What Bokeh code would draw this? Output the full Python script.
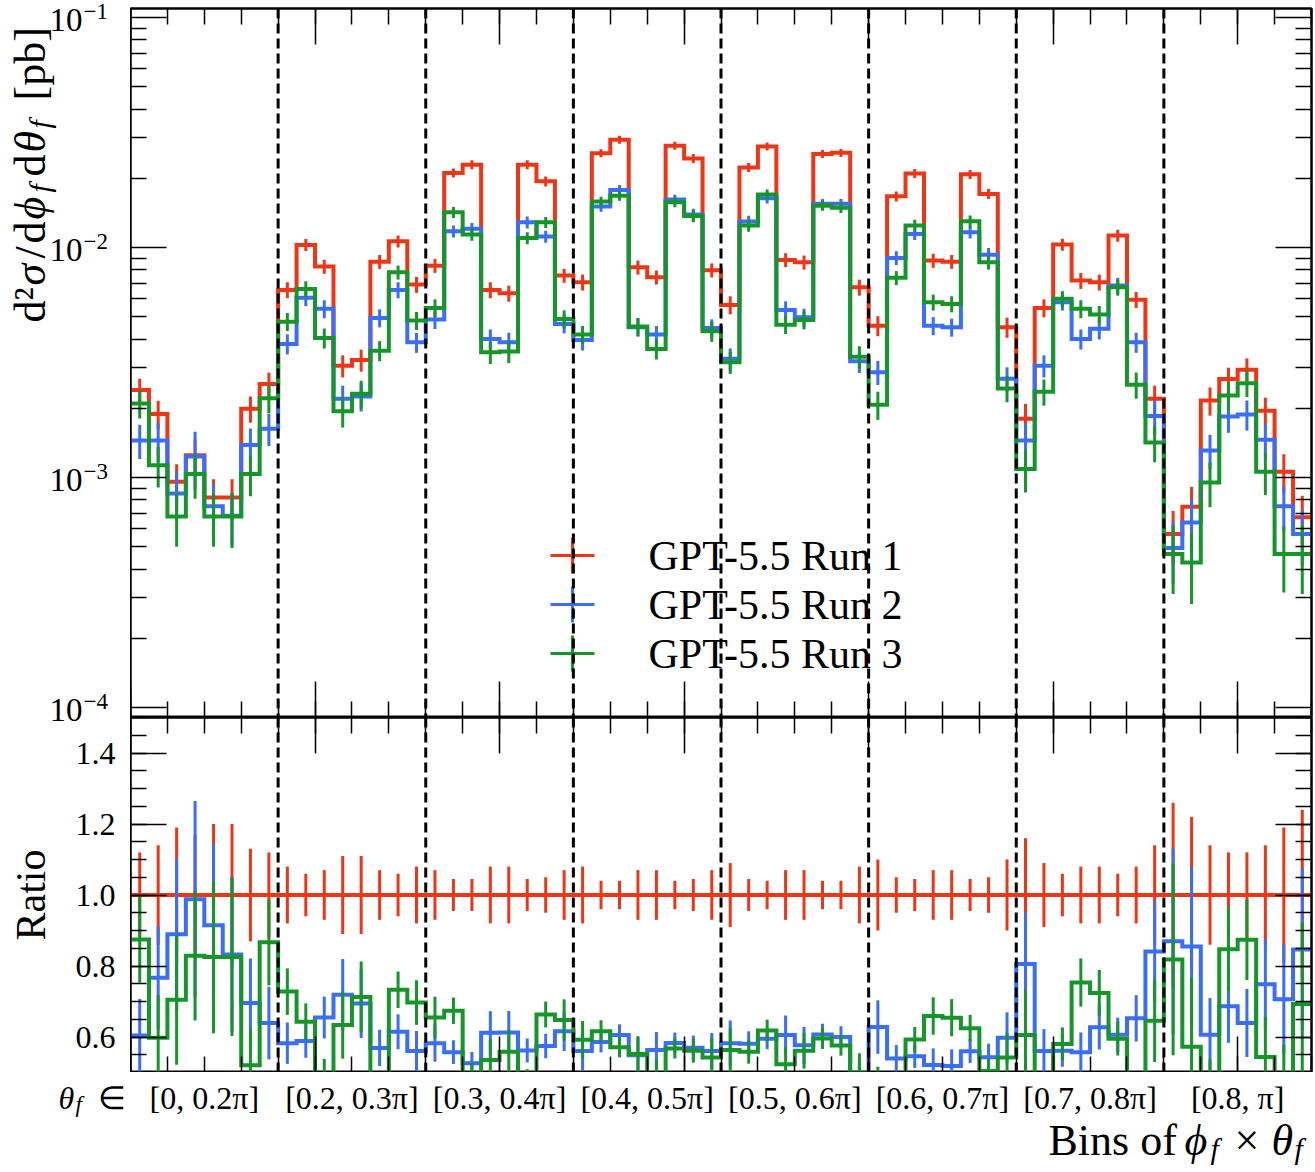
import numpy as np
from bokeh.plotting import figure
from bokeh.layouts import column, row
from bokeh.models import (Range1d, FixedTicker, LinearAxis, LogAxis, Span, Label,
                          CustomJSTickFormatter)
from bokeh.embed import file_html
from bokeh.resources import INLINE

# ---------------------------------------------------------------- data
theta_labels = ["[0, 0.2π]", "[0.2, 0.3π]", "[0.3, 0.4π]", "[0.4, 0.5π]",
                "[0.5, 0.6π]", "[0.6, 0.7π]", "[0.7, 0.8π]", "[0.8, π]"]
phi_bins_per_theta = 8
run_names = ["GPT-5.5 Run 1", "GPT-5.5 Run 2", "GPT-5.5 Run 3"]

run1 = [
    2.40e-3, 1.89e-3, 9.59e-4, 1.25e-3, 8.19e-4, 8.19e-4, 1.99e-3, 2.55e-3,
    6.54e-3, 1.026e-2, 8.26e-3, 3.06e-3, 3.24e-3, 8.68e-3, 1.064e-2, 6.90e-3,
    8.34e-3, 2.11e-2, 2.29e-2, 6.54e-3, 6.32e-3, 2.29e-2, 1.94e-2, 7.55e-3,
    7.06e-3, 2.57e-2, 2.94e-2, 8.20e-3, 7.42e-3, 2.77e-2, 2.44e-2, 7.97e-3,
    5.63e-3, 2.23e-2, 2.75e-2, 8.83e-3, 8.62e-3, 2.55e-2, 2.58e-2, 6.71e-3,
    4.57e-3, 1.67e-2, 2.10e-2, 8.77e-3, 8.68e-3, 2.08e-2, 1.71e-2, 4.50e-3,
    1.80e-3, 5.46e-3, 1.03e-2, 7.18e-3, 7.06e-3, 1.127e-2, 5.93e-3, 2.20e-3,
    5.68e-4, 7.46e-4, 2.16e-3, 2.68e-3, 2.94e-3, 1.95e-3, 1.06e-3, 6.71e-4]

run2 = [
    1.45e-3, 1.45e-3, 8.53e-4, 1.235e-3, 7.49e-4, 6.82e-4, 1.385e-3, 1.63e-3,
    3.81e-3, 6.04e-3, 5.41e-3, 2.20e-3, 2.25e-3, 4.94e-3, 6.54e-3, 3.87e-3,
    4.86e-3, 1.176e-2, 1.205e-2, 4.00e-3, 3.87e-3, 1.287e-2, 1.115e-2, 4.65e-3,
    3.96e-3, 1.506e-2, 1.78e-2, 4.50e-3, 4.18e-3, 1.616e-2, 1.39e-2, 4.47e-3,
    3.28e-3, 1.296e-2, 1.637e-2, 5.35e-3, 4.97e-3, 1.548e-2, 1.548e-2, 3.20e-3,
    2.87e-3, 9.01e-3, 1.146e-2, 4.57e-3, 4.50e-3, 1.165e-2, 9.29e-3, 2.69e-3,
    1.45e-3, 3.06e-3, 5.78e-3, 4.00e-3, 4.43e-3, 6.83e-3, 3.87e-3, 1.85e-3,
    4.94e-4, 6.38e-4, 1.31e-3, 1.84e-3, 1.88e-3, 1.46e-3, 7.49e-4, 5.68e-4]

run3 = [
    2.10e-3, 1.13e-3, 6.76e-4, 1.036e-3, 6.76e-4, 6.76e-4, 1.036e-3, 2.21e-3,
    4.76e-3, 6.60e-3, 4.04e-3, 1.94e-3, 2.31e-3, 3.56e-3, 7.80e-3, 4.81e-3,
    5.46e-3, 1.422e-2, 1.138e-2, 3.50e-3, 3.53e-3, 1.10e-2, 1.287e-2, 4.89e-3,
    4.18e-3, 1.584e-2, 1.68e-2, 4.53e-3, 3.62e-3, 1.573e-2, 1.37e-2, 4.32e-3,
    3.17e-3, 1.245e-2, 1.70e-2, 4.62e-3, 4.84e-3, 1.52e-2, 1.487e-2, 3.35e-3,
    2.07e-3, 7.38e-3, 1.245e-2, 5.78e-3, 5.68e-3, 1.30e-2, 8.62e-3, 2.44e-3,
    1.09e-3, 2.36e-3, 5.98e-3, 5.41e-3, 5.11e-3, 6.71e-3, 2.53e-3, 1.42e-3,
    4.65e-4, 4.27e-4, 9.52e-4, 2.27e-3, 2.57e-3, 1.06e-3, 4.65e-4, 4.65e-4]

# relative statistical uncertainties (fraction of the bin value)
run1_relerr = [
    0.12, 0.14, 0.19, 0.17, 0.20, 0.20, 0.13, 0.12,
    0.08, 0.06, 0.07, 0.11, 0.11, 0.07, 0.06, 0.08,
    0.07, 0.045, 0.045, 0.08, 0.08, 0.045, 0.05, 0.07,
    0.08, 0.04, 0.04, 0.07, 0.07, 0.04, 0.045, 0.07,
    0.09, 0.045, 0.04, 0.07, 0.07, 0.04, 0.04, 0.08,
    0.10, 0.05, 0.045, 0.07, 0.07, 0.045, 0.05, 0.10,
    0.16, 0.09, 0.06, 0.08, 0.08, 0.06, 0.08, 0.14,
    0.26, 0.22, 0.14, 0.12, 0.12, 0.14, 0.19, 0.24]
run2_relerr = [
    0.17, 0.19, 0.24, 0.28, 0.25, 0.26, 0.18, 0.16,
    0.10, 0.08, 0.09, 0.14, 0.14, 0.09, 0.08, 0.10,
    0.09, 0.06, 0.06, 0.10, 0.10, 0.06, 0.06, 0.09,
    0.10, 0.05, 0.05, 0.09, 0.09, 0.05, 0.06, 0.09,
    0.11, 0.06, 0.05, 0.09, 0.09, 0.05, 0.05, 0.11,
    0.12, 0.07, 0.06, 0.09, 0.09, 0.06, 0.07, 0.12,
    0.18, 0.11, 0.08, 0.10, 0.10, 0.08, 0.10, 0.17,
    0.30, 0.26, 0.17, 0.15, 0.15, 0.17, 0.22, 0.27]
run3_relerr = [
    0.14, 0.20, 0.26, 0.22, 0.26, 0.27, 0.20, 0.14,
    0.09, 0.08, 0.10, 0.15, 0.14, 0.10, 0.07, 0.09,
    0.09, 0.055, 0.06, 0.11, 0.11, 0.06, 0.055, 0.09,
    0.09, 0.05, 0.05, 0.09, 0.10, 0.05, 0.06, 0.10,
    0.11, 0.06, 0.05, 0.09, 0.09, 0.05, 0.05, 0.11,
    0.14, 0.07, 0.06, 0.08, 0.08, 0.06, 0.07, 0.13,
    0.21, 0.13, 0.08, 0.09, 0.09, 0.08, 0.13, 0.18,
    0.33, 0.34, 0.22, 0.14, 0.13, 0.21, 0.32, 0.33]

log_tick_exponents = [-4, -3, -2, -1]
ratio_ticks = [0.6, 0.8, 1.0, 1.2, 1.4]

# ---------------------------------------------------------------- style / layout
FONT = "Liberation Serif"
COLORS = ["#ee3617", "#3a6ef8", "#16962a"]
W, H = 1315, 1172
LEFT, RIGHT = 130, 4
TOP_H, TOP_PAD = 717, 8
BOT_FRAME_H = 355
BOT_PAD = H - TOP_H - BOT_FRAME_H          # 100 px strip under the ratio panel
SPLIT = 730                                # where the left label strips meet
LOG_TOP, LOG_BOT = -0.9609, -4.0435
TOP_FRAME_H = TOP_H - TOP_PAD
DEC = TOP_FRAME_H / (LOG_TOP - LOG_BOT)   # px per decade
MAIN_W = W - LEFT

N = len(run1)
edges = np.arange(N + 1, dtype=float)
centers = edges[:-1] + 0.5
runs = [np.array(run1), np.array(run2), np.array(run3)]
errs = [np.array(run1_relerr), np.array(run2_relerr), np.array(run3_relerr)]
boundaries = list(range(phi_bins_per_theta, N, phi_bins_per_theta))

x_ticker = FixedTicker(ticks=list(range(0, N + 1, 10)),
                       minor_ticks=list(range(0, N + 1, 2)))
log_ticker = FixedTicker(
    ticks=[10.0 ** e for e in log_tick_exponents],
    minor_ticks=[m * 10.0 ** e for e in range(-5, 0) for m in range(2, 10)])
ratio_ticker = FixedTicker(
    ticks=ratio_ticks,
    minor_ticks=[round(0.5 + 0.05 * k, 2) for k in range(21)])


def style_axis(ax):
    ax.axis_line_color = "black"
    ax.axis_line_width = 2
    ax.major_tick_in = 36
    ax.major_tick_out = 0
    ax.minor_tick_in = 16
    ax.minor_tick_out = 0
    ax.major_tick_line_color = "black"
    ax.major_tick_line_width = 1.5
    ax.minor_tick_line_color = "black"
    ax.minor_tick_line_width = 1.5
    ax.axis_label = None
    ax.formatter = CustomJSTickFormatter(code="return ''")
    ax.major_label_text_font_size = "0px"
    ax.major_label_standoff = 0


def base_style(p, outline=True):
    p.outline_line_color = "black" if outline else None
    p.outline_line_width = 2
    p.grid.visible = False
    p.background_fill_color = "white"
    p.border_fill_color = "white"


def label(p, text, x, y, size, italic=False, align="left", angle=0.0,
          x_units="screen", y_units="screen", y_offset=0):
    p.add_layout(Label(x=x, y=y, x_units=x_units, y_units=y_units, text=text,
                       text_font=FONT, text_font_size=f"{size}px",
                       text_font_style="italic" if italic else "normal",
                       text_color="black", text_align=align,
                       text_baseline="middle", angle=angle, y_offset=y_offset))


def strip(width, height, x_range, y_range, y_axis_type="linear", right=0):
    p = figure(width=width, height=height, x_range=x_range, y_range=y_range,
               y_axis_type=y_axis_type, x_axis_location=None, y_axis_location=None,
               output_backend="svg", toolbar_location=None, min_border=0,
               min_border_right=right)
    base_style(p, outline=False)
    return p


# ---------------------------------------------------------------- top panel
top = figure(width=MAIN_W, height=TOP_H, y_axis_type="log",
             x_range=Range1d(0, N), y_range=Range1d(10 ** LOG_BOT, 10 ** LOG_TOP),
             output_backend="svg", toolbar_location=None,
             min_border_left=0, min_border_right=RIGHT,
             min_border_top=TOP_PAD, min_border_bottom=0)
base_style(top)
top.xaxis[0].ticker = x_ticker
style_axis(top.xaxis[0])
top.yaxis[0].ticker = log_ticker
style_axis(top.yaxis[0])
ax = LinearAxis(ticker=x_ticker); style_axis(ax); top.add_layout(ax, "above")
ax = LogAxis(ticker=log_ticker); style_axis(ax); top.add_layout(ax, "right")

for vals, err, col in zip(runs, errs, COLORS):
    top.step(edges, np.append(vals, vals[-1]), mode="after", line_color=col,
             line_width=4, line_join="miter")
    top.segment(centers, vals * (1 - err), centers, vals * (1 + err),
                line_color=col, line_width=3)

for b in boundaries:
    top.add_layout(Span(location=b, dimension="height", line_color="black",
                        line_width=3, line_dash="10 5"))

# legend (inside the frame)
PXB = (MAIN_W - RIGHT) / N


def xdat(px):
    return (px - LEFT) / PXB


def ydat(py):
    return 10 ** (LOG_TOP - (py - TOP_PAD) / DEC)


for i, (name, col) in enumerate(zip(run_names, COLORS)):
    yc = 555 + 49 * i
    top.segment([xdat(550)], [ydat(yc)], [xdat(594)], [ydat(yc)],
                line_color=col, line_width=3)
    top.segment([xdat(572)], [ydat(yc - 18)], [xdat(572)], [ydat(yc + 18)],
                line_color=col, line_width=3)
    label(top, name, 648 - LEFT, TOP_H - yc, 42)

# left strip of the top panel: log tick labels and y title
ltop = strip(LEFT, SPLIT, Range1d(0, LEFT),
             Range1d(10 ** (LOG_BOT - (SPLIT - TOP_H) / DEC),
                     10 ** (LOG_TOP + TOP_PAD / DEC)), "log")
for e in log_tick_exponents:
    label(ltop, "10", 82, 10.0 ** e, 33, align="right", y_units="data", y_offset=-2.5)
    label(ltop, "\u2212" + str(abs(e)), 83, 10.0 ** e, 23, align="left",
          y_units="data", y_offset=5.5)

ylab_pieces = [("d²", 44, False, 0, 322), ("σ", 44, True, 0, 285),
               ("/", 44, False, 0, 258), ("d", 44, False, 0, 243),
               ("ϕ", 44, True, 0, 219), ("f", 30, True, 9, 192),
               ("d", 44, False, 0, 176), ("θ", 44, True, 0, 152),
               ("f", 30, True, 9, 128), ("[pb]", 44, False, 0, 100)]
for txt, size, it, shift, ystart in ylab_pieces:
    label(ltop, txt, 30 + shift, SPLIT - ystart, size, italic=it, angle=np.pi / 2)

# ---------------------------------------------------------------- ratio panel
bot = figure(width=MAIN_W, height=BOT_FRAME_H, x_range=top.x_range,
             y_range=Range1d(0.5, 1.5), output_backend="svg", toolbar_location=None,
             min_border_left=0, min_border_right=RIGHT,
             min_border_top=0, min_border_bottom=0)
base_style(bot)
bot.xaxis[0].ticker = x_ticker
style_axis(bot.xaxis[0])
bot.yaxis[0].ticker = ratio_ticker
style_axis(bot.yaxis[0])
ax = LinearAxis(ticker=x_ticker); style_axis(ax); bot.add_layout(ax, "above")
ax = LinearAxis(ticker=ratio_ticker); style_axis(ax); bot.add_layout(ax, "right")

for vals, err, col in zip(runs, errs, COLORS):
    ratio = vals / runs[0]
    bot.step(edges, np.append(ratio, ratio[-1]), mode="after", line_color=col,
             line_width=4, line_join="miter")
    bot.segment(centers, ratio * (1 - err), centers, ratio * (1 + err),
                line_color=col, line_width=3)

for b in boundaries:
    bot.add_layout(Span(location=b, dimension="height", line_color="black",
                        line_width=3, line_dash="10 5"))

# left strip of the ratio panel: tick labels, title, theta prefix
lbot = strip(LEFT, H - SPLIT, Range1d(0, LEFT),
             Range1d(0.5 - BOT_PAD / BOT_FRAME_H, 1.5 - (SPLIT - TOP_H) / BOT_FRAME_H))
for v in ratio_ticks:
    label(lbot, f"{v:.1f}", 115, v, 32, align="right", y_units="data")
label(lbot, "Ratio", 30, 1.0, 42, align="center", angle=np.pi / 2, y_units="data")
label(lbot, "θ", 58, H - 1097, 32, italic=True)
label(lbot, "f", 75, H - 1104, 23, italic=True)
label(lbot, "∈", 97, H - 1097, 32)

# strip below the ratio panel: theta-group labels and x title
bstrip = strip(MAIN_W, BOT_PAD, top.x_range, Range1d(0, BOT_PAD), right=RIGHT)
for k, txt in enumerate(theta_labels):
    cx = (k + 0.5) * phi_bins_per_theta
    label(bstrip, txt, cx, H - 1097, 32, align="center", x_units="data")

xlab_pieces = [("Bins of", 44, False, 0, 1048), ("ϕ", 44, True, 0, 1184),
               ("f", 30, True, 8, 1210), ("×", 44, False, 0, 1234),
               ("θ", 44, True, 0, 1271), ("f", 30, True, 8, 1294)]
for txt, size, it, shift, xstart in xlab_pieces:
    label(bstrip, txt, xstart - LEFT, H - 1140 - shift, size, italic=it)

layout = row(column(ltop, lbot, spacing=0),
             column(top, bot, bstrip, spacing=0), spacing=0)
open("out.html", "w").write(file_html(layout, INLINE))
